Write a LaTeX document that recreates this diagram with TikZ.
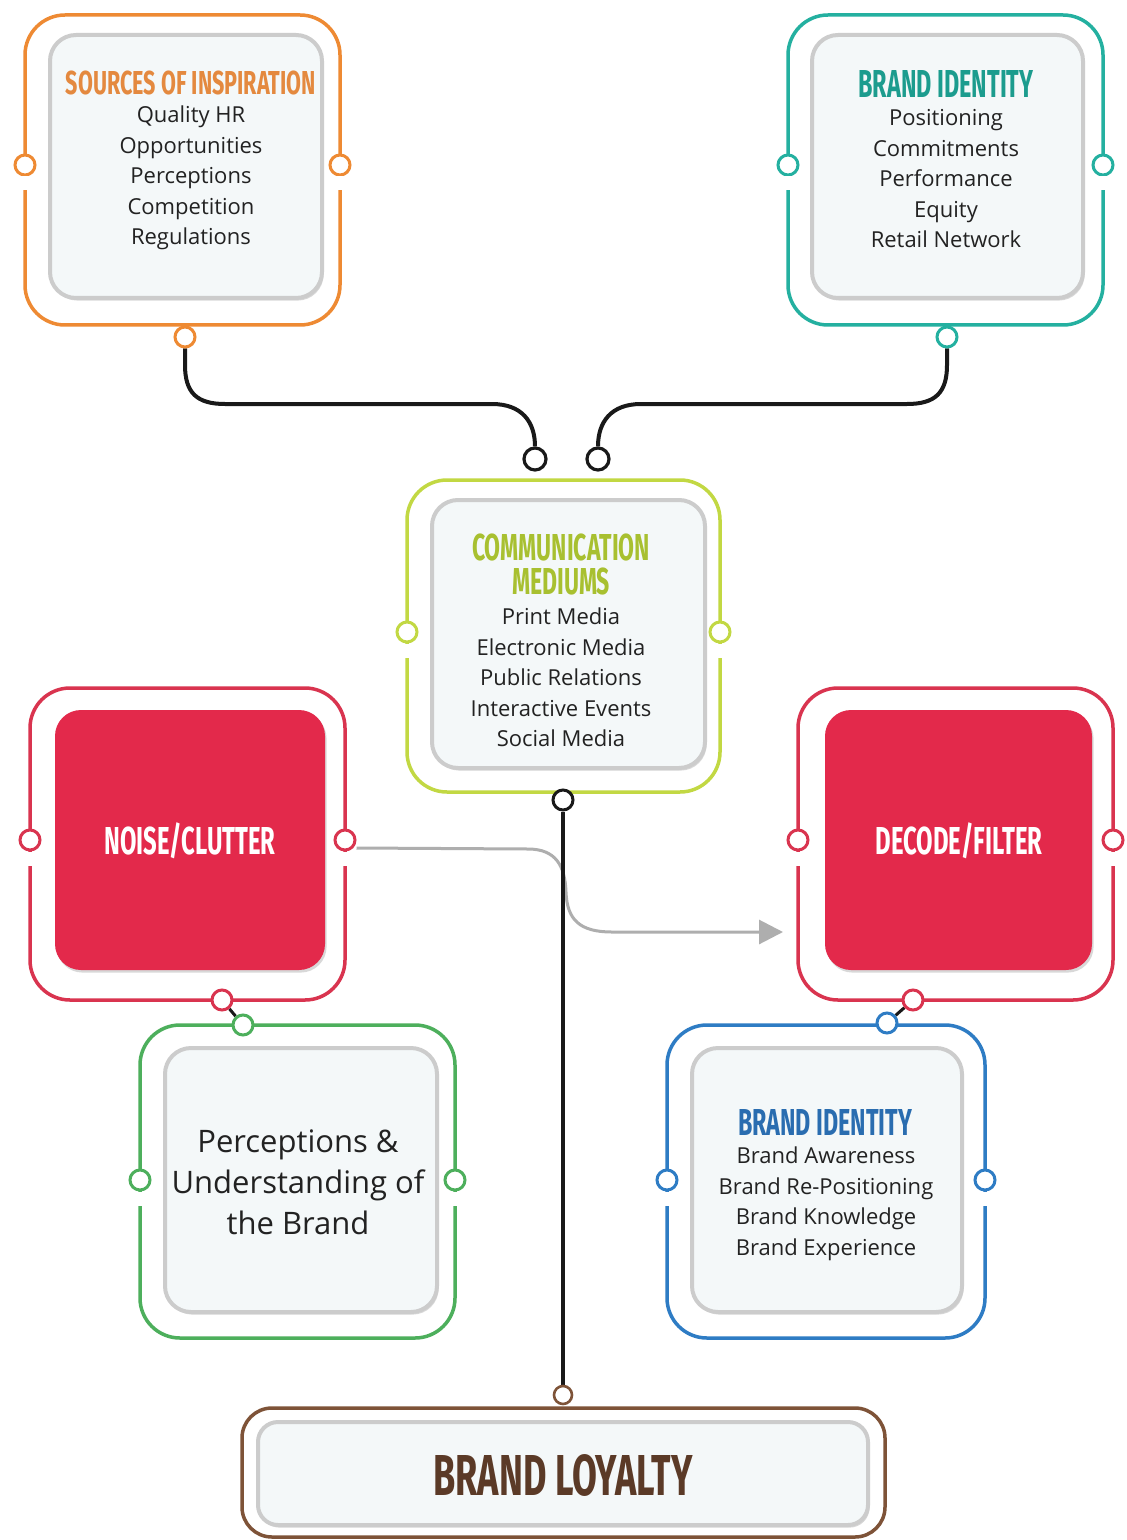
\documentclass[tikz,border=0pt]{standalone}
\usepackage{fontspec}
\usepackage{graphicx}
\usetikzlibrary{shadows,arrows.meta}
\newfontfamily\bodyfont{Open Sans}
\newfontfamily\condfont{Fira Sans}
\definecolor{cOrange}{HTML}{EE8A33}
\definecolor{cOrangeT}{HTML}{E4893F}
\definecolor{cTeal}{HTML}{24B0A0}
\definecolor{cTealT}{HTML}{1C9C8E}
\definecolor{cLime}{HTML}{C2D843}
\definecolor{cLimeT}{HTML}{A8C030}
\definecolor{cRed}{HTML}{D9344F}
\definecolor{cRedFill}{HTML}{E3294B}
\definecolor{cGreen}{HTML}{4DAF5C}
\definecolor{cBlue}{HTML}{2E7CC4}
\definecolor{cBlueT}{HTML}{2A6DB0}
\definecolor{cBrown}{HTML}{7E5338}
\definecolor{cBrownT}{HTML}{5B3A27}
\definecolor{cInner}{HTML}{F4F8F9}
\definecolor{cText}{HTML}{222222}
\definecolor{cGrayArrow}{HTML}{AEAEAE}
\pgfdeclarelayer{bg}
\pgfdeclarelayer{canvasbg}
\pgfsetlayers{canvasbg,bg,main}
\newcommand\ttl[3]{\resizebox{#1}{#2}{\condfont\bfseries\smash{#3}\vphantom{H}}}
\begin{document}
\begin{tikzpicture}[x=0.5pt,y=-0.5pt,
  frame/.style={draw=#1, line width=1.75pt, rounded corners=20pt, inner sep=0pt},
  innerbox/.style={draw=gray!40, line width=2pt, rounded corners=13pt, fill=cInner, inner sep=0pt,
    drop shadow={opacity=.3, shadow xshift=.8pt, shadow yshift=-1.3pt}},
  redbox/.style={fill=cRedFill, rounded corners=13pt, inner sep=0pt,
    drop shadow={opacity=.3, shadow xshift=.8pt, shadow yshift=-1.3pt}},
  port/.style={circle, draw=#1, line width=1.5pt, fill=white, minimum size=10pt, inner sep=0pt},
  endport/.style={circle, draw=black!90, line width=1.6pt, fill=white, minimum size=11pt, inner sep=0pt},
  items/.style={align=center, text=cText, font=\bodyfont\fontsize{11}{15.25}\selectfont, inner sep=0pt},
  ttlnode/.style={inner sep=0pt, text=#1},
  wire/.style={draw=black!90, line width=2pt},
  gapline/.style={draw=white, line width=3pt}
]
\begin{pgfonlayer}{canvasbg}
\fill[white] (0,0) rectangle (1127,1540);
\end{pgfonlayer}
\useasboundingbox (0,0) rectangle (1127,1540);

% ---------- frames ----------
\node[frame=cOrange, minimum width=157.5pt, minimum height=155pt] (srcF) at (182.5,170) {};
\node[innerbox, minimum width=136pt, minimum height=131.5pt] (srcIn) at (186,166.5) {};
\node[frame=cTeal, minimum width=157.5pt, minimum height=155pt] (tidF) at (945.5,170) {};
\node[innerbox, minimum width=135.5pt, minimum height=131.5pt] (tidIn) at (947.5,166.5) {};
\node[frame=cLime, minimum width=156.5pt, minimum height=156pt] (comF) at (563.5,636) {};
\node[innerbox, minimum width=136.5pt, minimum height=134pt] (comIn) at (568.5,634) {};
\node[frame=cRed, minimum width=157.5pt, minimum height=156pt] (noiF) at (187.5,844) {};
\node[redbox, minimum width=135pt, minimum height=130pt] (noiIn) at (190,840) {};
\node[frame=cRed, minimum width=157.5pt, minimum height=156pt] (decF) at (955.5,844) {};
\node[redbox, minimum width=133.5pt, minimum height=130pt] (decIn) at (958.5,840) {};
\node[frame=cGreen, minimum width=157.5pt, minimum height=156.5pt] (perF) at (297.5,1181.5) {};
\node[innerbox, minimum width=136pt, minimum height=132pt] (perIn) at (301,1180) {};
\node[frame=cBlue, minimum width=159pt, minimum height=156.5pt] (bluF) at (826,1181.5) {};
\node[innerbox, minimum width=135pt, minimum height=132pt] (bluIn) at (827,1180) {};
\node[frame=cBrown, rounded corners=15pt, minimum width=321.5pt, minimum height=64.5pt] (loyF) at (563.5,1472.5) {};
\node[innerbox, rounded corners=10pt, minimum width=305pt, minimum height=51.5pt] (loyIn) at (563,1473.5) {};

% ---------- texts ----------
\node[ttlnode=cOrangeT] (srcT) at (191,83) {\ttl{125pt}{11.5pt}{SOURCES OF INSPIRATION}};
\node[items] (srcI) at (191,178) {Quality HR\\Opportunities\\Perceptions\\Competition\\Regulations};
\node[ttlnode=cTealT] (tidT) at (946,84) {\ttl{87.5pt}{13.5pt}{BRAND IDENTITY}};
\node[items] (tidI) at (946,179) {Positioning\\Commitments\\Performance\\Equity\\Retail Network};
\node[ttlnode=cLimeT] (comT1) at (561,547) {\ttl{89pt}{13pt}{COMMUNICATION}};
\node[ttlnode=cLimeT] (comT2) at (561,581) {\ttl{49pt}{13pt}{MEDIUMS}};
\node[items] (comI) at (561,677.5) {Print Media\\Electronic Media\\Public Relations\\Interactive Events\\Social Media};
\node[ttlnode=white] (noiT) at (190,841) {\ttl{85.5pt}{13.5pt}{NOISE/CLUTTER}};
\node[ttlnode=white] (decT) at (959,841) {\ttl{83.5pt}{13.5pt}{DECODE/FILTER}};
\node[align=center, text=cText, inner sep=0pt, font=\bodyfont\fontsize{15.5}{20.5}\selectfont] (perT) at (298,1182) {Perceptions \&\\Understanding of\\the Brand};
\node[ttlnode=cBlueT] (bluT) at (825,1122) {\ttl{87pt}{13pt}{BRAND IDENTITY}};
\node[items] (bluI) at (826,1204) {Brand Awareness\\Brand Re-Positioning\\Brand Knowledge\\Brand Experience};
\node[ttlnode=cBrownT] (loyT) at (563,1475) {\ttl{129.5pt}{20pt}{BRAND LOYALTY}};

% ---------- ports ----------
\node[port=cOrange] (srcL) at (25,165) {};
\node[port=cOrange] (srcR) at (340,165) {};
\node[port=cOrange] (srcB) at (185,337) {};
\node[port=cTeal] (tidL) at (788,165) {};
\node[port=cTeal] (tidR) at (1103,165) {};
\node[port=cTeal] (tidB) at (947,337) {};
\node[port=cLime] (comL) at (407,632) {};
\node[port=cLime] (comR) at (720,632) {};
\node[port=black!90] (comB) at (563,800) {};
\node[endport] (endA) at (535,459) {};
\node[endport] (endB) at (598,459) {};
\node[port=cRed] (noiL) at (30,840) {};
\node[port=cRed] (noiR) at (345,840) {};
\node[port=cRed] (noiB) at (222,1000) {};
\node[port=cRed] (decL) at (798,840) {};
\node[port=cRed] (decR) at (1113,840) {};
\node[port=cRed] (decB) at (913,1000) {};
\node[port=cGreen] (perL) at (140,1180) {};
\node[port=cGreen] (perR) at (455,1180) {};
\node[port=cGreen] (perTop) at (243,1025) {};
\node[port=cBlue] (bluL) at (667,1180) {};
\node[port=cBlue] (bluR) at (985,1180) {};
\node[port=cBlue] (bluTop) at (887,1023) {};
\node[port=cBrown, minimum size=9pt, line width=1.3pt] (loyTop) at (563,1395) {};
\coordinate (arrowEnd) at (783,932);

% gaps in frames below side ports
\foreach \p in {srcL,srcR,tidL,tidR,comL,comR,noiL,noiR,decL,decR,perL,perR,bluL,bluR}
  \draw[gapline] (\p.south) -- ++(0,14);

% ---------- connectors ----------
\begin{pgfonlayer}{bg}
\draw[cGrayArrow, line width=1.5pt, -{Triangle[length=12pt,width=12pt]}]
  ([yshift=-4pt]noiR.east) -- (528,849) .. controls (556,849) and (565,866) .. (566,892)
  .. controls (567,920) and (580,932) .. (612,932) -- (arrowEnd);
\draw[wire] (srcB.south) -- (185,365) .. controls (185,393) and (197,404) .. (225,404)
  -- (492,404) .. controls (522,404) and (535,422) .. (endA.north);
\draw[wire] (tidB.south) -- (947,365) .. controls (947,393) and (935,404) .. (907,404)
  -- (641,404) .. controls (611,404) and (598,422) .. (endB.north);
\draw[wire] (comB.south) -- (loyTop.north);
\draw[wire, line width=1.5pt] (noiB) -- (perTop);
\draw[wire, line width=1.5pt] (decB) -- (bluTop);
\end{pgfonlayer}
\end{tikzpicture}
\end{document}
